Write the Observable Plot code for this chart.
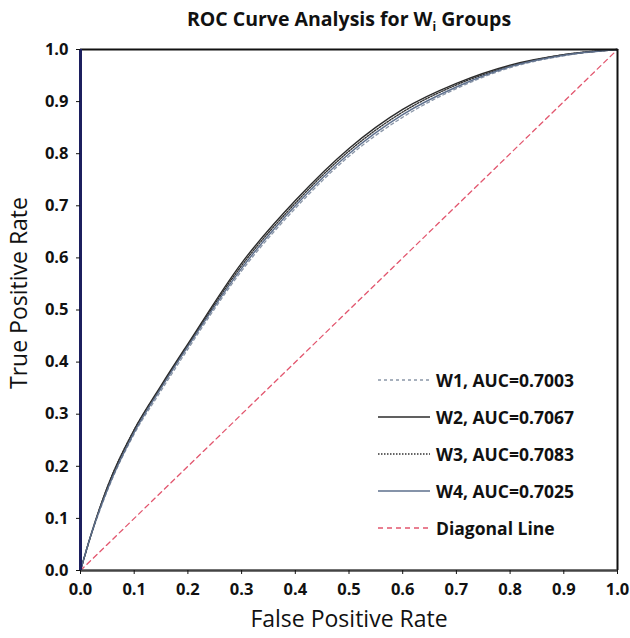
<!DOCTYPE html>
<html><head><meta charset="utf-8">
<script src="https://cdn.jsdelivr.net/npm/d3@7"></script>
<script src="https://cdn.jsdelivr.net/npm/@observablehq/plot@0.6"></script>
<style>
body{margin:0;background:#fff;font-family:"Open Sans",sans-serif;}
#wrap{position:relative;width:630px;height:638px;}
#title{position:absolute;left:0;top:0;width:630px;height:40px;line-height:38px;text-align:center;font-weight:bold;font-size:19.5px;color:#111;padding-left:68px;box-sizing:border-box;}
#ylabel{position:absolute;left:18px;top:293px;transform:translate(-50%,-50%) rotate(-90deg);white-space:nowrap;font-size:23px;color:#111;}
#legend{position:absolute;left:378px;top:361px;font-weight:bold;font-size:17.5px;color:#111;}
.row{height:37px;display:flex;align-items:center;}
.row svg{margin-right:6px;}
</style></head>
<body><div id="wrap"><div id="chart"></div><div id="title">ROC Curve Analysis for W<sub style="font-size:12px">i</sub> Groups</div><div id="ylabel">True Positive Rate</div><div id="legend"></div></div>
<script>
const fpr = [0, 0.02, 0.05, 0.1, 0.15, 0.2, 0.3, 0.4, 0.5, 0.6, 0.7, 0.8, 0.9, 1];
const tprW1 = [0, 0.068, 0.153, 0.262, 0.345, 0.425, 0.575, 0.695, 0.795, 0.870, 0.925, 0.965, 0.988, 1];
const tprW2 = [0, 0.070, 0.160, 0.270, 0.355, 0.435, 0.590, 0.710, 0.810, 0.885, 0.935, 0.970, 0.990, 1];
const tprW3 = [0, 0.070, 0.160, 0.270, 0.352, 0.432, 0.585, 0.705, 0.805, 0.880, 0.932, 0.968, 0.990, 1];
const tprW4 = [0, 0.070, 0.155, 0.265, 0.350, 0.430, 0.580, 0.700, 0.800, 0.875, 0.928, 0.967, 0.989, 1];
const diagonal = [0, 1];
const seriesNames = ["W1, AUC=0.7003", "W2, AUC=0.7067", "W3, AUC=0.7083", "W4, AUC=0.7025", "Diagonal Line"];
const ticks = [0, 0.1, 0.2, 0.3, 0.4, 0.5, 0.6, 0.7, 0.8, 0.9, 1.0];

const styles = [
  {stroke:"#8a96a8", dash:"3,3", width:1.3},
  {stroke:"#2b2b2b", dash:null, width:1.4},
  {stroke:"#333333", dash:"1.5,1.5", width:1.4},
  {stroke:"#5d6f8c", dash:null, width:1.4},
  {stroke:"#e2566e", dash:"5,4", width:1.3}
];
const tprs = [tprW1, tprW2, tprW3, tprW4];
const marks = [];
tprs.forEach((t, i) => {
  const data = fpr.map((x, j) => ({x, y: t[j]}));
  marks.push(Plot.line(data, {x:"x", y:"y", curve:"monotone-x", stroke: styles[i].stroke, strokeWidth: styles[i].width, strokeDasharray: styles[i].dash}));
});
const diag = diagonal.map(v => ({x:v, y:v}));
const plot = Plot.plot({
  width: 630, height: 638,
  marginLeft: 80, marginRight: 13, marginTop: 49, marginBottom: 68,
  style: {fontFamily: '"Open Sans", sans-serif', fontSize: "16.5px", fontWeight: "bold", color: "#111"},
  x: {domain:[0,1], label: null},
  y: {domain:[0,1], label: null},
  marks: [
    Plot.line(diag, {x:"x", y:"y", stroke: styles[4].stroke, strokeWidth: styles[4].width, strokeDasharray: styles[4].dash}),
    ...marks,
    Plot.ruleY([1], {stroke:"#111", strokeWidth:2}),
    Plot.ruleX([1], {stroke:"#111", strokeWidth:2}),
    Plot.ruleY([0], {stroke:"#444", strokeWidth:2.5}),
    Plot.ruleX([0], {stroke:"#1c1f5e", strokeWidth:3}),
    Plot.axisX({ticks: ticks, tickFormat: d3.format(".1f"), tickSize: 4, tickPadding: 9, label: null}),
    Plot.axisY({ticks: ticks, tickFormat: d3.format(".1f"), tickSize: 4, tickPadding: 8, label: null}),
    Plot.text(["False Positive Rate"], {frameAnchor:"bottom", dy: 56, fontSize: 23, fontWeight: "normal", fill:"#111"})
  ]
});
document.getElementById("chart").appendChild(plot);

const legend = document.getElementById("legend");
seriesNames.forEach((name, i) => {
  const s = styles[i];
  const row = document.createElement("div");
  row.className = "row";
  row.innerHTML = `<svg width="52" height="6"><line x1="0" y1="3" x2="52" y2="3" stroke="${s.stroke}" stroke-width="${s.width}" ${s.dash ? `stroke-dasharray="${s.dash}"` : ""}/></svg><span>${name}</span>`;
  legend.appendChild(row);
});
</script>
</body></html>
